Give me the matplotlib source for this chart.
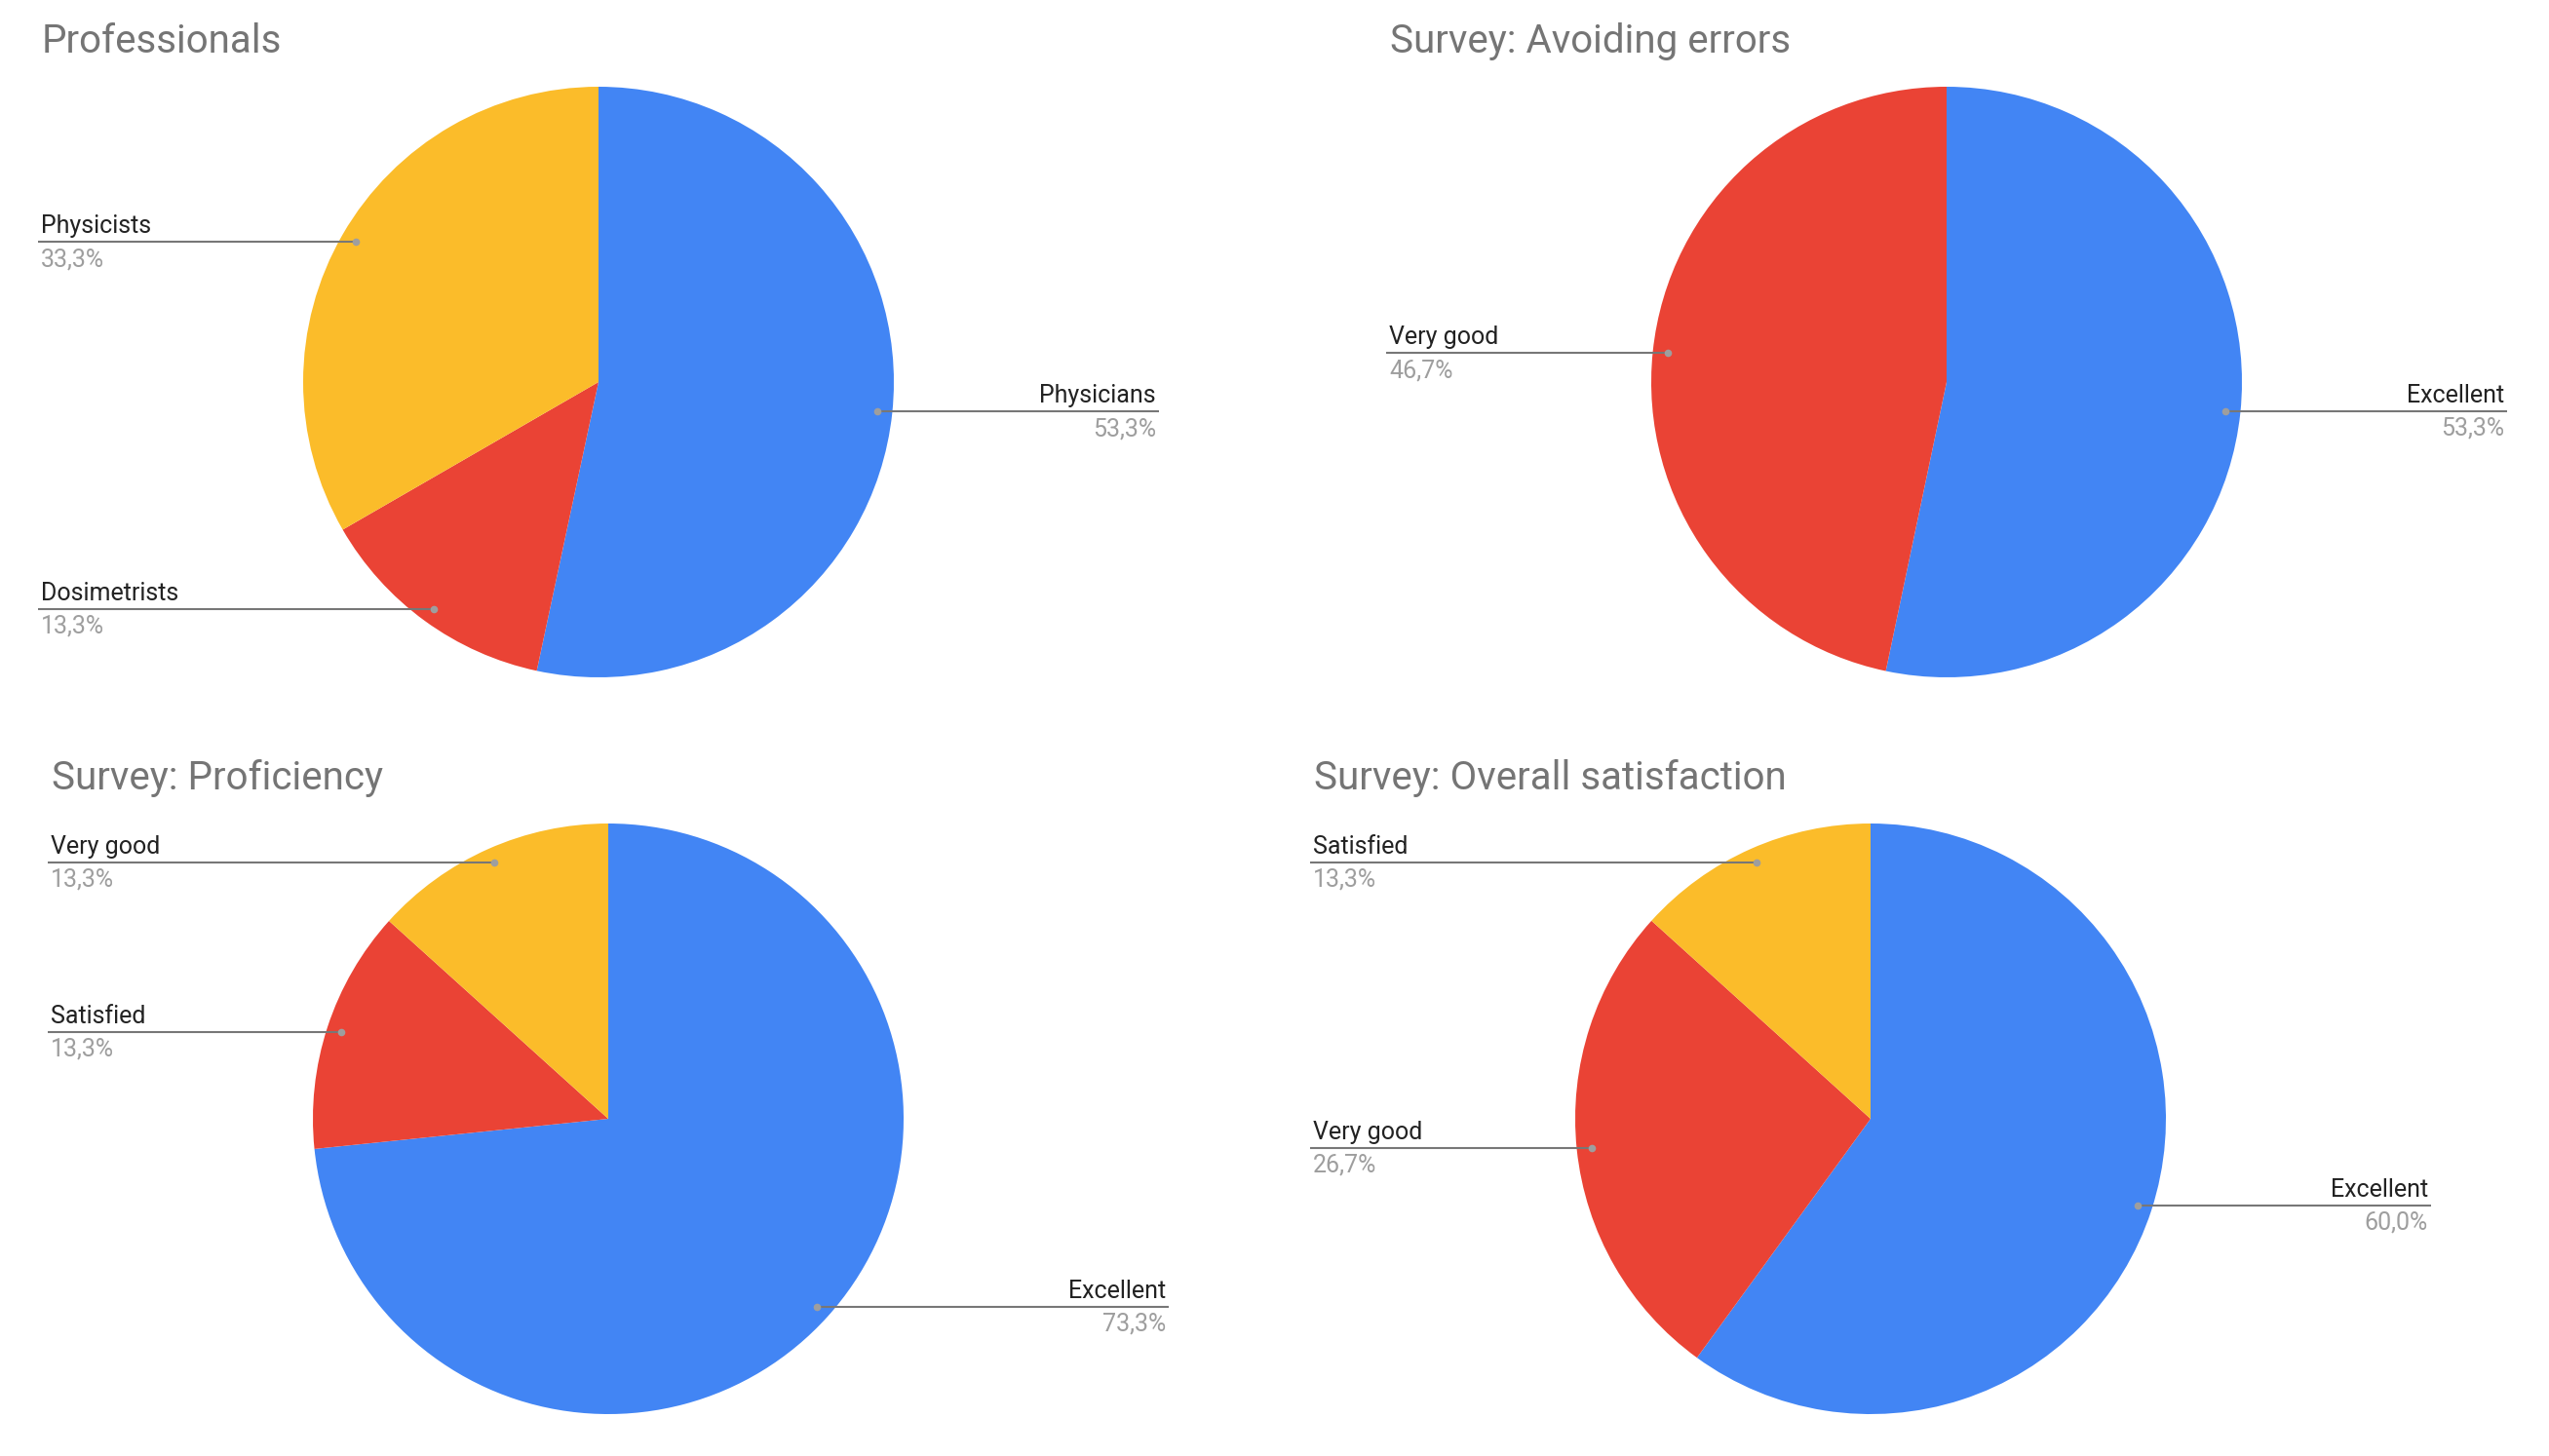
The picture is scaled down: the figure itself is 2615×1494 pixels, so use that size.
import numpy as np
import matplotlib
matplotlib.use("Agg")
import matplotlib.pyplot as plt

plt.rcParams['font.family'] = ['Roboto', 'DejaVu Sans']

# data (percent of respondents)
titles = ["Professionals", "Survey: Avoiding errors",
          "Survey: Proficiency", "Survey: Overall satisfaction"]
labels1 = ["Physicians", "Dosimetrists", "Physicists"]
values1 = [53.3, 13.3, 33.3]
labels2 = ["Excellent", "Very good"]
values2 = [53.3, 46.7]
labels3 = ["Excellent", "Satisfied", "Very good"]
values3 = [73.3, 13.3, 13.3]
labels4 = ["Excellent", "Very good", "Satisfied"]
values4 = [60.0, 26.7, 13.3]

colors = ["#4285F4", "#EA4335", "#FBBC2A"]

W, H = 2615, 1494
R = 303
# pie centres in pixel coords (y from top)
centers = [(614, 392), (1997, 392), (624, 1148), (1919, 1148)]

fig = plt.figure(figsize=(W / 100, H / 100), dpi=100)
ax = fig.add_axes([0, 0, 1, 1])

panels = [(labels1, values1), (labels2, values2),
          (labels3, values3), (labels4, values4)]

for k in range(4):
    labs, vals = panels[k]
    cx, cy = centers[k][0], H - centers[k][1]
    ax.pie(vals, colors=colors[:len(vals)], startangle=90, counterclock=False,
           center=(cx, cy), radius=R, wedgeprops=dict(linewidth=0))
    ax.text(cx - 571, cy + 338, titles[k], fontsize=29, color="#757575",
            ha="left", va="baseline")

    tot = sum(vals)
    start = 0.0
    for lab, v in zip(labs, vals):
        mid = (start + v / 2) / tot * 2 * np.pi
        start += v
        dx, dy = np.sin(mid), np.cos(mid)
        px, py = cx + 0.95 * R * dx, cy + 0.95 * R * dy
        if dx < 0:
            ax.plot([cx - 575, px], [py, py], color="#777777", lw=1.5,
                    solid_capstyle="butt", zorder=3)
            tx, ha = cx - 572, "left"
        else:
            ax.plot([px, cx + 575], [py, py], color="#777777", lw=1.5,
                    solid_capstyle="butt", zorder=3)
            tx, ha = cx + 572, "right"
        ax.plot(px, py, "o", ms=5.5, color="#9E9E9E", mec="none", zorder=4)
        ax.text(tx, py + 9, lab, fontsize=18, color="#222222", ha=ha,
                va="baseline")
        pct = ("%.1f" % v).replace(".", ",") + "%"
        ax.text(tx, py - 25, pct, fontsize=18, color="#9E9E9E", ha=ha,
                va="baseline")

ax.set_aspect("auto")
ax.set_xlim(0, W)
ax.set_ylim(0, H)
ax.axis("off")

plt.savefig("out.png", dpi=100, facecolor="white")
